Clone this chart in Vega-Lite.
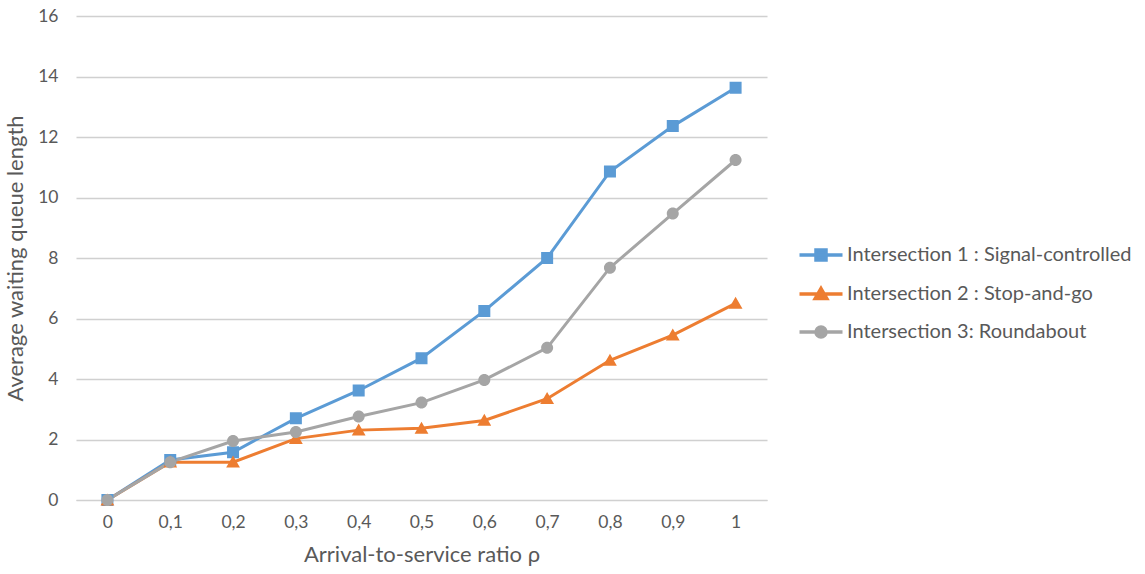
{
  "$schema": "https://vega.github.io/schema/vega-lite/v6.json",
  "autosize": {"type": "none"},
  "padding": {"left": 76, "top": 16, "right": 378, "bottom": 74},
  "width": 691,
  "height": 484,
  "background": "white",
  "data": {
    "values": [
      {"rho": "0", "series": "Intersection 1 : Signal-controlled", "value": 0},
      {"rho": "0,1", "series": "Intersection 1 : Signal-controlled", "value": 1.32},
      {"rho": "0,2", "series": "Intersection 1 : Signal-controlled", "value": 1.58},
      {"rho": "0,3", "series": "Intersection 1 : Signal-controlled", "value": 2.7},
      {"rho": "0,4", "series": "Intersection 1 : Signal-controlled", "value": 3.62},
      {"rho": "0,5", "series": "Intersection 1 : Signal-controlled", "value": 4.69},
      {"rho": "0,6", "series": "Intersection 1 : Signal-controlled", "value": 6.25},
      {"rho": "0,7", "series": "Intersection 1 : Signal-controlled", "value": 8.0},
      {"rho": "0,8", "series": "Intersection 1 : Signal-controlled", "value": 10.86},
      {"rho": "0,9", "series": "Intersection 1 : Signal-controlled", "value": 12.36},
      {"rho": "1", "series": "Intersection 1 : Signal-controlled", "value": 13.63},
      {"rho": "0", "series": "Intersection 2 : Stop-and-go", "value": 0},
      {"rho": "0,1", "series": "Intersection 2 : Stop-and-go", "value": 1.25},
      {"rho": "0,2", "series": "Intersection 2 : Stop-and-go", "value": 1.25},
      {"rho": "0,3", "series": "Intersection 2 : Stop-and-go", "value": 2.03},
      {"rho": "0,4", "series": "Intersection 2 : Stop-and-go", "value": 2.31},
      {"rho": "0,5", "series": "Intersection 2 : Stop-and-go", "value": 2.37},
      {"rho": "0,6", "series": "Intersection 2 : Stop-and-go", "value": 2.63},
      {"rho": "0,7", "series": "Intersection 2 : Stop-and-go", "value": 3.35},
      {"rho": "0,8", "series": "Intersection 2 : Stop-and-go", "value": 4.62},
      {"rho": "0,9", "series": "Intersection 2 : Stop-and-go", "value": 5.45},
      {"rho": "1", "series": "Intersection 2 : Stop-and-go", "value": 6.5},
      {"rho": "0", "series": "Intersection 3: Roundabout", "value": 0},
      {"rho": "0,1", "series": "Intersection 3: Roundabout", "value": 1.25},
      {"rho": "0,2", "series": "Intersection 3: Roundabout", "value": 1.95},
      {"rho": "0,3", "series": "Intersection 3: Roundabout", "value": 2.25},
      {"rho": "0,4", "series": "Intersection 3: Roundabout", "value": 2.76},
      {"rho": "0,5", "series": "Intersection 3: Roundabout", "value": 3.22},
      {"rho": "0,6", "series": "Intersection 3: Roundabout", "value": 3.97},
      {"rho": "0,7", "series": "Intersection 3: Roundabout", "value": 5.03},
      {"rho": "0,8", "series": "Intersection 3: Roundabout", "value": 7.68},
      {"rho": "0,9", "series": "Intersection 3: Roundabout", "value": 9.47},
      {"rho": "1", "series": "Intersection 3: Roundabout", "value": 11.24}
    ]
  },
  "encoding": {
    "x": {
      "field": "rho", "type": "ordinal", "sort": null,
      "scale": {"type": "point", "padding": 0.5},
      "axis": {
        "title": "Arrival-to-service ratio ρ",
        "labelAngle": 0,
        "labelPadding": 13,
        "titlePadding": 14,
        "domain": true,
        "domainColor": "#d0d0d0",
        "ticks": false,
        "tickSize": 0,
        "grid": false
      }
    },
    "y": {
      "field": "value", "type": "quantitative",
      "scale": {"domain": [0, 16], "nice": false},
      "axis": {
        "title": "Average waiting queue length",
        "values": [0, 2, 4, 6, 8, 10, 12, 14, 16],
        "domain": false,
        "ticks": false,
        "tickSize": 0,
        "labelPadding": 18,
        "titlePadding": 10,
        "grid": true,
        "gridColor": "#d0d0d0",
        "gridWidth": 1.3
      }
    }
  },
  "layer": [
    {
      "transform": [{"filter": "datum.series === 'Intersection 1 : Signal-controlled'"}],
      "mark": {"type": "line", "strokeWidth": 3, "color": "#5B9BD5"}
    },
    {
      "transform": [{"filter": "datum.series === 'Intersection 2 : Stop-and-go'"}],
      "mark": {"type": "line", "strokeWidth": 3, "color": "#ED7D31"}
    },
    {
      "transform": [{"filter": "datum.series === 'Intersection 3: Roundabout'"}],
      "mark": {"type": "line", "strokeWidth": 3, "color": "#A5A5A5"}
    },
    {
      "mark": {"type": "point", "filled": true, "opacity": 1, "size": 144},
      "encoding": {
        "color": {
          "field": "series", "type": "nominal",
          "scale": {
            "domain": ["Intersection 1 : Signal-controlled", "Intersection 2 : Stop-and-go", "Intersection 3: Roundabout"],
            "range": ["#5B9BD5", "#ED7D31", "#A5A5A5"]
          },
          "legend": {
            "title": null,
            "orient": "none",
            "legendX": 735,
            "legendY": 229,
            "symbolSize": 100,
            "symbolStrokeWidth": 3.5,
            "symbolOpacity": 1,
            "labelOffset": 16,
            "labelFontSize": 20,
            "labelFont": "Lato",
            "labelColor": "#595959",
            "labelLimit": 400,
            "rowPadding": 14,
            "encode": {
              "symbols": {"update": {"stroke": {"scale": "color", "field": "value"}, "strokeWidth": {"value": 3.5}}}
            }
          }
        },
        "shape": {
          "field": "series", "type": "nominal",
          "scale": {
            "domain": ["Intersection 1 : Signal-controlled", "Intersection 2 : Stop-and-go", "Intersection 3: Roundabout"],
            "range": [
              "M-4.3,0H4.3M-1,-1H1V1H-1Z",
              "M-4.3,0H4.3M0,-1.1L1.15,0.9H-1.15Z",
              "M-4.3,0H4.3M-1,0A1,1 0 1,0 1,0A1,1 0 1,0 -1,0Z"
            ]
          }
        }
      }
    }
  ],
  "config": {
    "view": {"stroke": null},
    "font": "Lato",
    "axis": {
      "labelFont": "Lato",
      "labelFontSize": 17.5,
      "labelColor": "#595959",
      "titleFont": "Lato",
      "titleFontSize": 22,
      "titleFontWeight": "normal",
      "titleColor": "#595959"
    }
  }
}
